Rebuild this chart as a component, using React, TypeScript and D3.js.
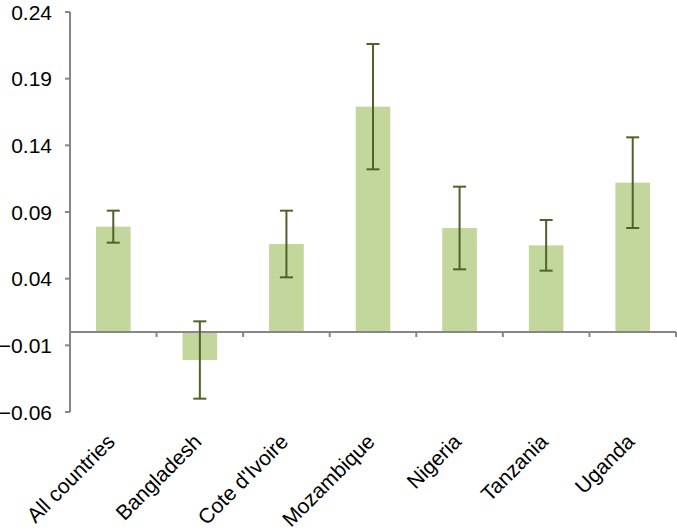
import React from "react";
import * as d3 from "d3";

const categories = ["All countries", "Bangladesh", "Cote d'Ivoire", "Mozambique", "Nigeria", "Tanzania", "Uganda"];
const values = [0.079, -0.021, 0.066, 0.169, 0.078, 0.065, 0.112];
const errors = [0.012, 0.029, 0.025, 0.047, 0.031, 0.019, 0.034];
const yTicks = [-0.06, -0.01, 0.04, 0.09, 0.14, 0.19, 0.24];

const W = 677;
const H = 531;

export default function App() {
  const left = 70;
  const right = 676;
  const top = 12;
  const bottom = 412;
  const x = d3.scaleBand<string>().domain(categories).range([left, right]).paddingInner(0).paddingOuter(0);
  const y = d3.scaleLinear().domain([-0.06, 0.24]).range([bottom, top]);
  const bw = x.bandwidth() * 0.4;
  const y0 = y(0);
  const axisColor = "#868686";
  const errColor = "#4f6228";
  const font = "'Liberation Sans', Arial, sans-serif";
  const boundaries = categories.map((c) => (x(c) as number) + x.bandwidth());

  return (
    <svg width={W} height={H} style={{ position: "absolute", left: 0, top: 0, background: "#fff" }}>
      {/* bars */}
      {categories.map((c, i) => {
        const cx = (x(c) as number) + x.bandwidth() / 2;
        const v = values[i];
        return (
          <rect
            key={c}
            x={cx - bw / 2}
            width={bw}
            y={Math.min(y(v), y0)}
            height={Math.abs(y(v) - y0)}
            fill="#c3d69b"
          />
        );
      })}
      {/* y axis */}
      <line x1={left} x2={left} y1={top} y2={bottom} stroke={axisColor} strokeWidth={2} />
      {yTicks.map((t) => (
        <g key={t}>
          <line x1={left - 5} x2={left} y1={y(t)} y2={y(t)} stroke={axisColor} strokeWidth={2} />
          <text x={52} y={y(t)} dy="0.36em" textAnchor="end" fontFamily={font} fontSize={21} fill="#000">
            {d3.format(".2f")(t)}
          </text>
        </g>
      ))}
      {/* x axis */}
      <line x1={left} x2={right} y1={y0} y2={y0} stroke={axisColor} strokeWidth={2} />
      {boundaries.map((b, i) => (
        <line key={i} x1={b} x2={b} y1={y0} y2={y0 + 5} stroke={axisColor} strokeWidth={2} />
      ))}
      {/* error bars */}
      {categories.map((c, i) => {
        const cx = (x(c) as number) + x.bandwidth() / 2;
        const hi = y(values[i] + errors[i]);
        const lo = y(values[i] - errors[i]);
        return (
          <g key={c} stroke={errColor} strokeWidth={2}>
            <line x1={cx} x2={cx} y1={hi} y2={lo} />
            <line x1={cx - 6.5} x2={cx + 6.5} y1={hi} y2={hi} />
            <line x1={cx - 6.5} x2={cx + 6.5} y1={lo} y2={lo} />
          </g>
        );
      })}
      {/* x labels */}
      {categories.map((c) => {
        const cx = (x(c) as number) + x.bandwidth() / 2;
        const ax = cx + 3;
        const ay = 443;
        return (
          <text
            key={c}
            x={ax}
            y={ay}
            transform={`rotate(-45 ${ax} ${ay})`}
            textAnchor="end"
            fontFamily={font}
            fontSize={21}
            fill="#000"
          >
            {c}
          </text>
        );
      })}
    </svg>
  );
}
